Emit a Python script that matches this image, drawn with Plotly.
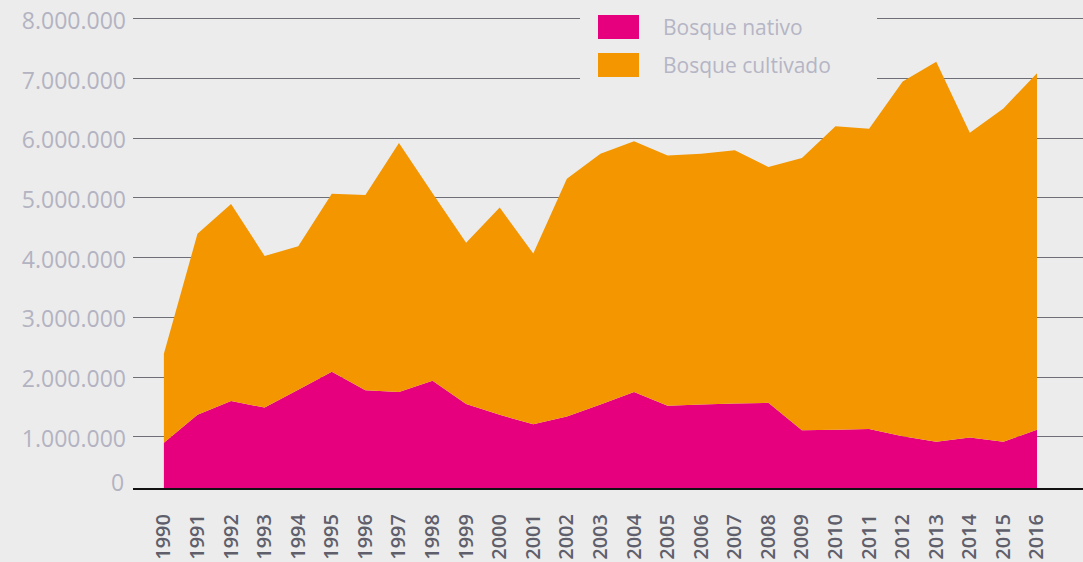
import plotly.graph_objects as go

years = [str(y) for y in range(1990, 2017)]
bosque_nativo = [900000, 1370000, 1600000, 1490000, 1790000, 2090000, 1780000, 1750000, 1940000,
                 1550000, 1370000, 1210000, 1340000, 1540000, 1750000, 1520000, 1540000, 1560000,
                 1570000, 1110000, 1120000, 1130000, 1010000, 920000, 990000, 920000, 1120000]
bosque_total = [2390000, 4400000, 4900000, 4030000, 4190000, 5070000, 5050000, 5920000, 5080000,
                4250000, 4840000, 4070000, 5320000, 5740000, 5950000, 5710000, 5740000, 5800000,
                5520000, 5670000, 6200000, 6160000, 6950000, 7280000, 6090000, 6500000, 7090000]
bosque_cultivado = [t - n for t, n in zip(bosque_total, bosque_nativo)]
y_ticks = [1000000, 2000000, 3000000, 4000000, 5000000, 6000000, 7000000, 8000000]
y_ticktext = ["1.000.000", "2.000.000", "3.000.000", "4.000.000", "5.000.000", "6.000.000",
              "7.000.000", "8.000.000"]
series_names = ["Bosque nativo", "Bosque cultivado"]

MAGENTA = "#E6007E"
ORANGE = "#F39600"
BG = "#ECECEC"

fig = go.Figure()
fig.add_trace(go.Scatter(x=years, y=bosque_nativo, name=series_names[0], stackgroup="one",
                         mode="none", fillcolor=MAGENTA, line=dict(width=0)))
fig.add_trace(go.Scatter(x=years, y=bosque_cultivado, name=series_names[1], stackgroup="one",
                         mode="none", fillcolor=ORANGE, line=dict(width=0)))

# manual legend
TOP = 17
PH = 471.0
def py(pix):
    return 1 - (pix - TOP) / PH
def px(pix):
    return (pix - 133) / 950.0

leg_c = [27, 65]
colors = [MAGENTA, ORANGE]
shapes = [dict(type="rect", xref="paper", yref="paper", x0=px(580), x1=px(877), y0=py(95), y1=py(0),
               fillcolor=BG, line=dict(width=0), layer="above")]
annotations = []
for i, name in enumerate(series_names):
    shapes.append(dict(type="rect", xref="paper", yref="paper",
                       x0=px(598), x1=px(639), y0=py(leg_c[i] + 12), y1=py(leg_c[i] - 12),
                       fillcolor=colors[i], line=dict(width=0), layer="above"))
    annotations.append(dict(text=name, xref="paper", yref="paper", x=px(661),
                            y=py(leg_c[i]), xanchor="left", yanchor="middle", showarrow=False,
                            font=dict(family="Open Sans", size=21, color="#B5B5C5")))
annotations.append(dict(text="0", xref="paper", yref="y", x=0, y=246000, xanchor="right",
                        yanchor="middle", xshift=-7, showarrow=False,
                        font=dict(family="Open Sans", size=23, color="#B3B3C2")))

fig.update_layout(
    width=1083, height=562,
    margin=dict(l=133, r=0, t=TOP, b=74),
    paper_bgcolor=BG, plot_bgcolor=BG,
    showlegend=False,
    shapes=shapes, annotations=annotations,
    xaxis=dict(type="category", range=[-0.92, 27.37], showgrid=False, zeroline=False,
               showline=True, linecolor="#111111", linewidth=2,
               tickangle=-90, ticks="outside", ticklen=16, tickcolor="rgba(0,0,0,0)",
               tickfont=dict(family="Open Sans", size=20, color="#5F5F6B", weight=600)),
    yaxis=dict(range=[144000, 8030000], tickvals=y_ticks, ticktext=y_ticktext,
               showgrid=True, gridcolor="#6E6E76", gridwidth=1, zeroline=False,
               ticks="", ticklabelstandoff=6, ticklabelshift=2,
               tickfont=dict(family="Open Sans", size=23, color="#B3B3C2")),
)

fig.write_html("out.html", config={"displayModeBar": False},
               post_script="document.body.style.margin='0';document.body.style.overflow='hidden';")
